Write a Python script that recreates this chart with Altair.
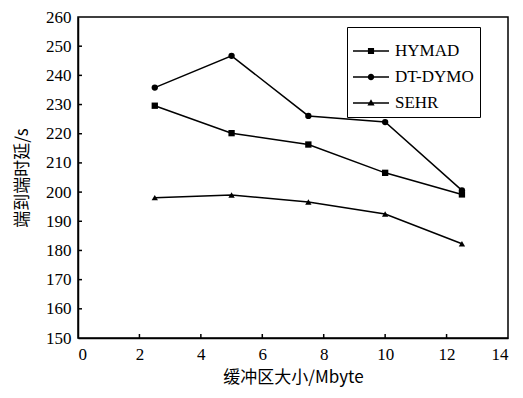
import altair as alt
import pandas as pd

x_vals = [2.5, 5, 7.5, 10, 12.5]
hymad = [229.6, 220.2, 216.3, 206.6, 199.2]
dtdymo = [235.8, 246.7, 226.1, 224.0, 200.6]
sehr = [198.1, 199.0, 196.6, 192.5, 182.3]
series = ["HYMAD", "DT-DYMO", "SEHR"]
marker_shapes = ["square", "circle", "triangle-up"]
x_ticks = [2, 4, 6, 8, 10, 12]
y_ticks = [160, 170, 180, 190, 200, 210, 220, 230, 240, 250]

rows = []
for name, vals in zip(series, [hymad, dtdymo, sehr]):
    for x, y in zip(x_vals, vals):
        rows.append({"x": x, "y": y, "series": name})
df = pd.DataFrame(rows)

W, H = 430, 321
FONT = "serif"
CJK = "Noto Sans CJK SC"

xs = alt.Scale(domain=[0, 14], nice=False, zero=False)
ys = alt.Scale(domain=[150, 260], nice=False, zero=False)

xaxis = alt.Axis(values=[0, 2, 4, 6, 8, 10, 12, 14], ticks=False, grid=False,
                 labelPadding=8, titlePadding=7, labelOverlap=False,
                 labelFont=FONT, labelFontSize=17, titleFont=CJK, titleFontSize=17,
                 titleFontWeight="normal", titleColor="black", labelColor="black",
                 domainColor="black", domainWidth=1.5)
yaxis = alt.Axis(values=[150] + y_ticks + [260], ticks=False, grid=False,
                 labelPadding=7, titlePadding=14, labelOverlap=False,
                 labelFont=FONT, labelFontSize=17, titleFont=CJK, titleFontSize=17,
                 titleFontWeight="normal", titleColor="black", labelColor="black",
                 domainColor="black", domainWidth=1.5)

xenc = alt.X("x:Q", scale=xs, title="缓冲区大小/Mbyte", axis=xaxis)
yenc = alt.Y("y:Q", scale=ys, title="端到端时延/s", axis=yaxis)

base = alt.Chart(df)

lines = base.mark_line(color="black", strokeWidth=1.5).encode(
    x=xenc, y=yenc, detail="series:N"
)

point_layers = [
    base.transform_filter(alt.datum.series == name).mark_point(
        filled=True, color="black", size=40, opacity=1, shape=shp
    ).encode(x=xenc, y=yenc)
    for name, shp in zip(series, marker_shapes)
]

bar = "M-1,-0.045H1V0.045H-1Z"
sq = bar + "M-0.17,-0.17H0.17V0.17H-0.17Z"
circ = bar + "M0.18,0A0.18,0.18,0,1,1,-0.18,0A0.18,0.18,0,1,1,0.18,0Z"
tri = bar + "M0,-0.21L0.2,0.14H-0.2Z"

legend_layer = base.mark_point(filled=True, color="black", opacity=0).encode(
    x=xenc, y=yenc,
    shape=alt.Shape(
        "series:N",
        scale=alt.Scale(domain=series, range=[sq, circ, tri]),
        legend=alt.Legend(
            title=None, orient="none", legendX=269, legendY=10,
            symbolSize=1296, symbolOpacity=1, symbolFillColor="black",
            symbolStrokeColor="black", symbolStrokeWidth=0,
            labelFont=FONT, labelFontSize=17, labelColor="black",
            strokeColor="black", padding=6, rowPadding=0,
            labelOffset=6,
        ),
    ),
)

xtick_df = pd.DataFrame({"t": x_ticks})
ytick_df = pd.DataFrame({"t": y_ticks})

xticks = alt.Chart(xtick_df).mark_rule(color="black", strokeWidth=1.5).encode(
    x=alt.X("t:Q", scale=xs, axis=xaxis, title="缓冲区大小/Mbyte"), y=alt.value(H), y2=alt.value(H - 4)
)
yticks = alt.Chart(ytick_df).mark_rule(color="black", strokeWidth=1.5).encode(
    y=alt.Y("t:Q", scale=ys, axis=yaxis, title="端到端时延/s"), x=alt.value(0), x2=alt.value(4)
)

chart = alt.layer(lines, *point_layers, legend_layer, xticks, yticks).properties(
    width=W, height=H,
    autosize=alt.AutoSizeParams(type="none"),
    padding={"left": 70, "top": 9, "right": 7, "bottom": 50},
).configure_view(
    stroke="black", strokeWidth=1.5
)

chart.save("out.html", embed_options={"renderer": "svg", "actions": False})
